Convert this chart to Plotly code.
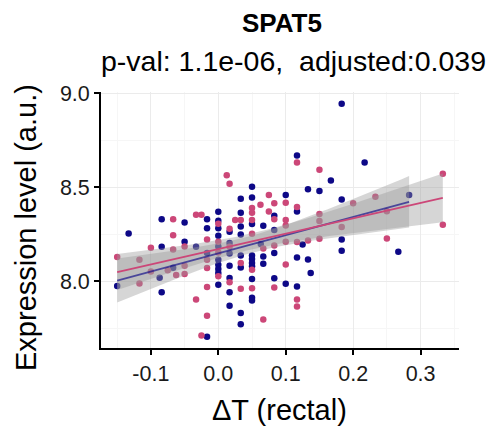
import numpy as np
import plotly.graph_objects as go

# ---- data ----
blue_x = [-0.150, -0.133, -0.084, -0.084, -0.087, -0.084, -0.067, -0.050, -0.050, -0.033,
          -0.0167, -0.0167, -0.0167, -0.0167,
          0.0, 0.0, 0.0, 0.0, 0.0, 0.0, 0.0, 0.0, 0.0, 0.0,
          0.0167, 0.0167, 0.0167, 0.0167, 0.0167, 0.0167, 0.0167,
          0.0333, 0.0333, 0.0333, 0.0333, 0.0333, 0.0333, 0.0333, 0.0333,
          0.05, 0.05, 0.05, 0.05, 0.05, 0.05, 0.05, 0.05, 0.05, 0.05,
          0.063, 0.0667, 0.0667, 0.0667,
          0.083, 0.083, 0.083, 0.083,
          0.1, 0.1,
          0.1167, 0.1167, 0.1167, 0.1167,
          0.125, 0.133, 0.133, 0.137, 0.15, 0.167,
          0.183, 0.183, 0.183, 0.183,
          0.217, 0.267, 0.283]
blue_y = [7.976, 8.255, 8.331, 8.184, 8.020, 7.942, 8.073, 8.313, 8.211, 8.184,
          8.331, 8.283, 8.151, 7.706,
          8.370, 8.322, 8.283, 8.243, 8.186, 8.115, 8.089, 8.066, 8.045, 7.982,
          8.264, 8.204, 8.149, 8.083, 8.018, 7.942, 7.871,
          8.439, 8.365, 8.292, 8.249, 8.138, 8.074, 7.832, 7.772,
          8.503, 8.446, 8.305, 8.138, 8.119, 8.098, 8.080, 8.013, 7.913, 7.899,
          8.199, 8.296, 8.133, 8.094,
          8.349, 8.274, 8.151, 8.017,
          8.459, 7.988,
          8.669, 8.372, 8.127, 7.973,
          8.196, 8.490, 8.117, 8.045, 8.481, 8.536,
          8.945, 8.435, 8.223, 8.163,
          8.632, 8.158, 8.459]

pink_x = [-0.150, -0.117, -0.117, -0.100, -0.100, -0.067, -0.067, -0.067, -0.075, -0.0625,
          -0.050, -0.050, -0.050, -0.033, -0.033, -0.025, -0.025,
          -0.0167, -0.0167, -0.0167, -0.0167, -0.0167,
          0.0, 0.0, 0.0, 0.0,
          0.0125, 0.0167, 0.0167, 0.0167, 0.0167,
          0.025, 0.0333, 0.0333, 0.0333,
          0.05, 0.05, 0.05, 0.05, 0.05, 0.05,
          0.0625, 0.0667, 0.0667, 0.075, 0.075,
          0.083, 0.083, 0.083, 0.083,
          0.1, 0.1, 0.1, 0.1, 0.1,
          0.1167, 0.1167, 0.1167, 0.1167, 0.1167,
          0.133, 0.15, 0.15, 0.15, 0.15,
          0.183, 0.2, 0.233, 0.25, 0.25, 0.333, 0.333]
pink_y = [8.130, 8.115, 7.989, 8.179, 8.053, 8.331, 8.246, 8.170, 8.059, 8.034,
          8.186, 8.083, 8.039, 8.354, 7.904, 8.354, 7.713,
          8.223, 8.115, 8.071, 7.970, 7.818,
          8.306, 8.211, 8.154, 8.027,
          8.565, 8.519, 8.280, 8.184, 7.995,
          8.327, 8.327, 8.098, 7.961,
          8.390, 8.365, 8.327, 8.253, 8.062, 7.963,
          8.407, 8.175, 7.797, 8.460, 8.372,
          8.416, 8.331, 8.191, 7.967,
          8.418, 8.327, 8.297, 8.211, 8.090,
          8.632, 8.395, 8.209, 7.904, 7.866,
          8.218, 8.593, 8.358, 8.321, 8.227,
          8.289, 8.416, 8.450, 8.373, 8.228, 8.573, 8.301]

x_ticks = [-0.1, 0.0, 0.1, 0.2, 0.3]
x_ticklabels = ["-0.1", "0.0", "0.1", "0.2", "0.3"]
y_ticks = [8.0, 8.5, 9.0]
y_ticklabels = ["8.0", "8.5", "9.0"]

title_text = "SPAT5"
subtitle_text = "p-val: 1.1e-06,  adjusted:0.039"
x_title = "ΔT (rectal)"
y_title = "Expression level (a.u.)"

BLUE = "#0D0887"
PINK = "#CC4778"
FONT = "Liberation Sans"


def lm_fit(x, y, n_pts=80, tcrit=1.993):
    x = np.asarray(x, float)
    y = np.asarray(y, float)
    n = len(x)
    b, a = np.polyfit(x, y, 1)
    resid = y - (a + b * x)
    s = np.sqrt(np.sum(resid ** 2) / (n - 2))
    xm = x.mean()
    sxx = np.sum((x - xm) ** 2)
    xs = np.linspace(x.min(), x.max(), n_pts)
    ys = a + b * xs
    se = s * np.sqrt(1.0 / n + (xs - xm) ** 2 / sxx)
    return xs, ys, ys - tcrit * se, ys + tcrit * se


fig = go.Figure()

fig.add_trace(go.Scatter(x=blue_x, y=blue_y, mode="markers",
                         marker=dict(color=BLUE, size=6.5, line=dict(width=0)),
                         showlegend=False))
fig.add_trace(go.Scatter(x=pink_x, y=pink_y, mode="markers",
                         marker=dict(color=PINK, size=6.5, line=dict(width=0)),
                         showlegend=False))

for xs_, ys_ in [(blue_x, blue_y), (pink_x, pink_y)]:
    xs, ys, lo, hi = lm_fit(xs_, ys_)
    fig.add_trace(go.Scatter(x=np.concatenate([xs, xs[::-1]]),
                             y=np.concatenate([hi, lo[::-1]]),
                             fill="toself", fillcolor="rgba(153,153,153,0.4)",
                             line=dict(width=0), mode="lines",
                             hoverinfo="skip", showlegend=False))

for xs_, ys_, col in [(blue_x, blue_y, "rgba(13,8,135,0.65)"), (pink_x, pink_y, PINK)]:
    xs, ys, lo, hi = lm_fit(xs_, ys_)
    fig.add_trace(go.Scatter(x=xs, y=ys, mode="lines",
                             line=dict(color=col, width=1.8),
                             showlegend=False))

L, R, T, B = 101, 35, 92, 82
W, H = 494, 430
pw, ph = W - L - R, H - T - B


def px2paper_x(px):
    return (px - L) / pw


def px2paper_y(py):
    return (H - B - py) / ph


fig.update_layout(
    width=W, height=H,
    margin=dict(l=L, r=R, t=T, b=B, autoexpand=False),
    paper_bgcolor="white", plot_bgcolor="white",
    font=dict(family=FONT, color="black"),
    xaxis=dict(range=[-0.174, 0.357], tickvals=x_ticks, ticktext=x_ticklabels,
               automargin=False,
               showgrid=True, gridcolor="#EBEBEB", gridwidth=1.1,
               minor=dict(dtick=0.05, tick0=0.05, showgrid=True, gridcolor="#F6F6F6", gridwidth=1),
               zeroline=False, showline=True, linecolor="black", linewidth=1.8,
               ticks="outside", ticklen=5, tickwidth=1.5, tickcolor="black",
               tickfont=dict(size=21.5, color="#1a1a1a", family=FONT)),
    yaxis=dict(range=[7.646, 9.007], tickvals=y_ticks, ticktext=y_ticklabels,
               automargin=False,
               showgrid=True, gridcolor="#EBEBEB", gridwidth=1.1,
               minor=dict(dtick=0.25, tick0=7.75, showgrid=True, gridcolor="#F6F6F6", gridwidth=1),
               zeroline=False, showline=True, linecolor="black", linewidth=1.8,
               ticks="outside", ticklen=5, tickwidth=1.5, tickcolor="black",
               tickfont=dict(size=21.5, color="#1a1a1a", family=FONT)),
    annotations=[
        dict(text="<b>" + title_text + "</b>", x=px2paper_x(282), y=px2paper_y(23),
             xref="paper", yref="paper", xanchor="center", yanchor="middle",
             showarrow=False, font=dict(size=26, family=FONT, color="black")),
        dict(text=subtitle_text, x=px2paper_x(293), y=px2paper_y(61),
             xref="paper", yref="paper", xanchor="center", yanchor="middle",
             showarrow=False, font=dict(size=28.5, family=FONT, color="black")),
        dict(text=x_title, x=px2paper_x(279), y=px2paper_y(410),
             xref="paper", yref="paper", xanchor="center", yanchor="middle",
             showarrow=False, font=dict(size=29, family=FONT, color="black")),
        dict(text=y_title, x=px2paper_x(26), y=px2paper_y(228),
             xref="paper", yref="paper", xanchor="center", yanchor="middle",
             textangle=-90, showarrow=False, font=dict(size=29, family=FONT, color="black")),
    ],
)

fig.write_html("out.html", config={"displayModeBar": False},
               post_script="document.body.style.margin='0';document.body.style.padding='0';")
